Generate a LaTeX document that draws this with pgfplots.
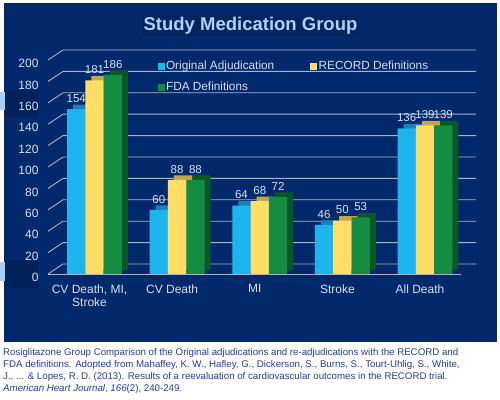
\documentclass[border=0pt]{standalone}
\usepackage{pgfplots}
\usepackage{pgfplotstable}
\pgfplotsset{compat=1.18}
\usepackage{fontspec}
\setmainfont{Liberation Sans}
\definecolor{navy}{RGB}{2,41,107}
\definecolor{titlebg}{RGB}{4,36,95}
\definecolor{titlecol}{RGB}{170,212,250}
\definecolor{labcol}{RGB}{214,224,240}
\definecolor{gridcol}{RGB}{170,180,200}
\definecolor{cblue}{RGB}{30,180,238}
\definecolor{cbluetop}{RGB}{24,130,188}
\definecolor{cyellow}{RGB}{255,222,102}
\definecolor{cyellowtop}{RGB}{196,166,74}
\definecolor{cgreen}{RGB}{20,140,66}
\definecolor{cgreentop}{RGB}{10,88,40}
\definecolor{capcol}{RGB}{32,62,150}
\definecolor{lightpatch}{RGB}{168,208,246}
\definecolor{darkpatch}{RGB}{2,34,92}
\pgfplotstableread{
x orig record fda
0 154 181 186
1 60 88 88
2 64 68 72
3 46 50 53
4 136 139 139
}\datatable
\begin{document}
\begin{tikzpicture}[x=1pt,y=1pt]
\fill[white] (0,0) rectangle (500,399);
\fill[navy] (4,57) rectangle (497,396);
\fill[lightpatch] (0,289) rectangle (5,307);
\fill[darkpatch] (5,282) rectangle (38,309);
\fill[lightpatch] (0,118) rectangle (5,137);
\fill[darkpatch] (5,111) rectangle (38,139);
\node[fill=titlebg, text=titlecol, font=\fontsize{18.5}{20}\selectfont\bfseries, inner sep=1.5pt] at (250.5,373) {Study Medication Group};
\begin{axis}[
  at={(48pt,125pt)}, anchor=south west,
  scale only axis, width=413pt, height=214pt,
  xmin=-0.563, xmax=4.436, ymin=0, ymax=200,
  ybar, bar width=18.3pt,
  clip=false,
  /pgf/number format/assume math mode=true,
  axis line style={draw=none},
  major tick length=0pt,
  xtick={0,1,2,3,4},
  xticklabels={{CV Death, MI,\\Stroke},CV Death,MI,Stroke,All Death},
  xticklabel style={align=center, font=\fontsize{12}{13}\selectfont, text=labcol, xshift=-5pt, yshift=-7pt},
  ytick={0,20,...,200},
  yticklabel style={font=\fontsize{12}{13}\selectfont, text=labcol, anchor=east, xshift=-6pt, yshift=-3.5pt},
  legend columns=2,
  legend style={draw=none, fill=none, at={(0.265,1.006)}, anchor=north west,
    font=\fontsize{11.8}{13}\selectfont, text=labcol, inner sep=0pt,
    /tikz/every even column/.append style={column sep=34pt},
    /tikz/every odd column/.append style={column sep=0pt},
    row sep=7pt},
  legend cell align=left,
]
\pgfplotsinvokeforeach{0,20,...,200}{
  \draw[gridcol, line width=0.9pt] (axis cs:-0.563,#1) -- ++(15pt,10pt) -- ++(413pt,0pt);
}
\addplot[forget plot, fill=cbluetop, draw=none, bar shift=-18.3pt, xshift=6pt, yshift=4.5pt] table[x=x,y=orig] {\datatable};
\addplot[forget plot, fill=cblue, draw=none, bar shift=-18.3pt,
  nodes near coords, every node near coord/.append style={font=\fontsize{11.5}{12}\selectfont, text=labcol, yshift=3pt}] table[x=x,y=orig] {\datatable};
\addplot[forget plot, fill=cyellowtop, draw=none, bar shift=0pt, xshift=6pt, yshift=4.5pt] table[x=x,y=record] {\datatable};
\addplot[forget plot, fill=cyellow, draw=none, bar shift=0pt,
  nodes near coords, every node near coord/.append style={font=\fontsize{11.5}{12}\selectfont, text=labcol, yshift=3pt}] table[x=x,y=record] {\datatable};
\addplot[forget plot, fill=cgreentop, draw=none, bar shift=18.3pt, xshift=6pt, yshift=4.5pt] table[x=x,y=fda] {\datatable};
\addplot[forget plot, fill=cgreen, draw=none, bar shift=18.3pt,
  nodes near coords, every node near coord/.append style={font=\fontsize{11.5}{12}\selectfont, text=labcol, yshift=3pt}] table[x=x,y=fda] {\datatable};
\draw[gridcol, line width=0.9pt] (axis cs:-0.563,0) -- (axis cs:4.436,0);
\addlegendimage{legend image code/.code={\fill[cblue] (0pt,-3pt) rectangle (6pt,3pt);}}
\addlegendentry{Original Adjudication}
\addlegendimage{legend image code/.code={\fill[cyellow] (0pt,-3pt) rectangle (6pt,3pt);}}
\addlegendentry{RECORD Definitions}
\addlegendimage{legend image code/.code={\fill[cgreen] (0pt,-3pt) rectangle (6pt,3pt);}}
\addlegendentry{FDA Definitions}
\end{axis}
\node[anchor=north west, inner sep=0pt, align=left, text=capcol, font=\fontsize{9.7}{12}\selectfont] at (3,51) {Rosiglitazone Group Comparison of the Original adjudications and re-adjudications with the RECORD and\\
FDA definitions. Adopted from Mahaffey, K. W., Hafley, G., Dickerson, S., Burns, S., Tourt-Uhlig, S., White,\\
J., ... \& Lopes, R. D. (2013). Results of a reevaluation of cardiovascular outcomes in the RECORD trial.\\
\textit{American Heart Journal}, \textit{166}(2), 240-249.};
\useasboundingbox (0,0) rectangle (500,399);
\end{tikzpicture}
\end{document}
